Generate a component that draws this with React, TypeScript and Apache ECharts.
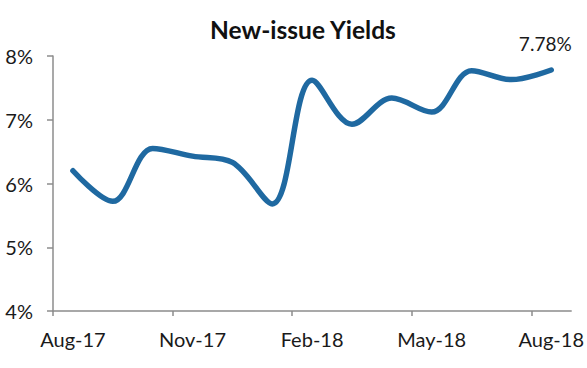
import React, { useEffect, useRef } from "react";
import * as echarts from "echarts";

const months = [
  "Aug-17", "Sep-17", "Oct-17", "Nov-17", "Dec-17", "Jan-18", "Feb-18",
  "Mar-18", "Apr-18", "May-18", "Jun-18", "Jul-18", "Aug-18",
];
const yields = [6.2, 5.72, 6.55, 6.43, 6.33, 5.68, 7.62, 6.93, 7.34, 7.12, 7.77, 7.63, 7.78];
const tickIndices = [0, 3, 6, 9, 12];
const yTicks = [4, 5, 6, 7, 8];

export default function App() {
  const ref = useRef<HTMLDivElement>(null);
  useEffect(() => {
    if (!ref.current) return;
    const chart = echarts.init(ref.current, null, { renderer: "svg" });
    const axisColor = "#8c8c8c";
    const font = "Lato, 'Noto Sans', sans-serif";
    const lastIdx = yields.length - 1;
    chart.setOption({
      animation: false,
      backgroundColor: "#ffffff",
      title: {
        text: "New-issue Yields",
        left: 298,
        top: 12,
        textAlign: "center",
        textStyle: { fontFamily: font, fontSize: 24.5, fontWeight: "bold", color: "#111" },
      },
      grid: { left: 53, right: 15, top: 56, bottom: 57, containLabel: false },
      xAxis: {
        type: "value",
        min: 0,
        max: months.length,
        splitLine: { show: false },
        axisLine: { show: true, lineStyle: { color: axisColor, width: 1.5 } },
        axisTick: { show: true, customValues: tickIndices, length: 5, lineStyle: { color: axisColor, width: 1.5 } },
        axisLabel: {
          customValues: tickIndices.map((i) => i + 0.5),
          formatter: (v: number) => months[Math.floor(v)] ?? "",
          fontFamily: font,
          fontSize: 20,
          color: "#1a1a1a",
          margin: 18,
        },
      },
      yAxis: {
        type: "value",
        min: yTicks[0],
        max: yTicks[yTicks.length - 1],
        interval: 1,
        splitLine: { show: false },
        axisLine: { show: true, lineStyle: { color: axisColor, width: 1.5 } },
        axisTick: { show: true, length: 6, lineStyle: { color: axisColor, width: 1.5 } },
        axisLabel: {
          formatter: "{value}%",
          fontFamily: font,
          fontSize: 20,
          color: "#1a1a1a",
          margin: 20,
        },
      },
      series: [
        {
          type: "line",
          data: yields.map((v, i) => ({
            value: [i + 0.5, v],
            label:
              i === lastIdx
                ? {
                    show: true,
                    position: "top",
                    distance: 17,
                    offset: [-6, 0],
                    formatter: (p: any) => p.value[1].toFixed(2) + "%",
                    fontFamily: font,
                    fontSize: 19,
                    color: "#1a1a1a",
                  }
                : { show: false },
          })),
          smooth: 0.35,
          showSymbol: true,
          showAllSymbol: true,
          symbol: "circle",
          symbolSize: 1,
          itemStyle: { color: "#1f69a1" },
          lineStyle: { color: "#1f69a1", width: 5.5, cap: "round", join: "round" },
        },
      ],
    });
    return () => chart.dispose();
  }, []);
  return (
    <div
      ref={ref}
      style={{ position: "fixed", left: 0, top: 0, width: 587, height: 368, background: "#fff" }}
    />
  );
}
